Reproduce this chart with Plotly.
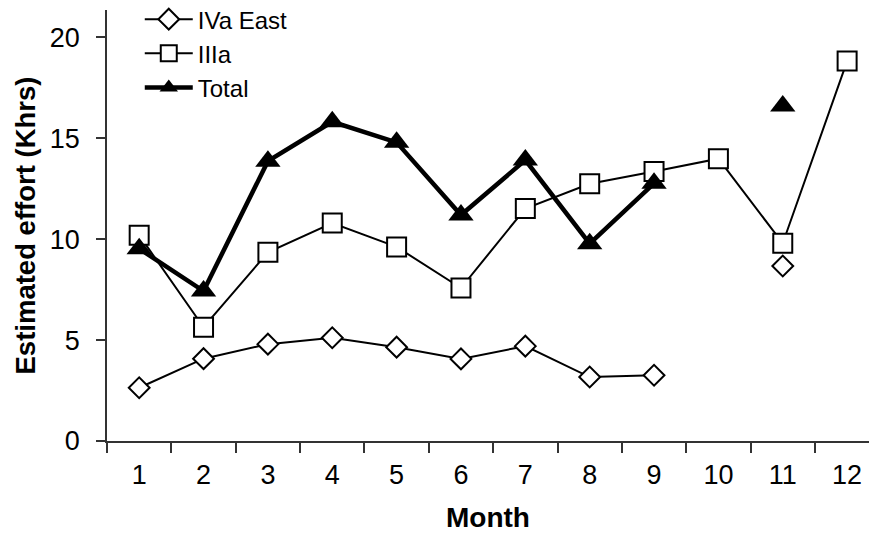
import plotly.graph_objects as go

# Monthly estimated effort (thousand hours)
months = ["1", "2", "3", "4", "5", "6", "7", "8", "9", "10", "11", "12"]
iva_east = [2.64, 4.08, 4.8, 5.12, 4.65, 4.07, 4.7, 3.17, 3.26, None, 8.67, None]
iiia = [10.2, 5.64, 9.35, 10.8, 9.62, 7.58, 11.52, 12.75, 13.36, 13.99, 9.8, 18.83]
total = [9.53, 7.43, 13.87, 15.82, 14.8, 11.2, 13.92, 9.78, 12.77, None, 16.6, None]

y_ticks = [0, 5, 10, 15, 20]

FONT = "Liberation Sans, Arial, sans-serif"

fig = go.Figure()

fig.add_trace(go.Scatter(
    x=months, y=iva_east, name="IVa East", mode="lines+markers",
    connectgaps=False,
    line=dict(color="black", width=2),
    marker=dict(symbol="diamond", size=16, color="white",
                line=dict(color="black", width=2)),
))
fig.add_trace(go.Scatter(
    x=months, y=iiia, name="IIIa", mode="lines+markers",
    connectgaps=False,
    line=dict(color="black", width=2),
    marker=dict(symbol="square", size=19, color="white",
                line=dict(color="black", width=2)),
))
fig.add_trace(go.Scatter(
    x=months, y=total, name="Total", mode="lines+markers",
    connectgaps=False,
    line=dict(color="black", width=4.5),
    marker=dict(symbol="triangle-up", size=22, color="black",
                line=dict(color="black", width=0)),
))

fig.update_layout(
    width=869, height=535,
    margin=dict(l=107, r=0, t=10, b=94, autoexpand=False),
    paper_bgcolor="white", plot_bgcolor="white",
    font=dict(family=FONT, color="black", size=27),
    showlegend=True,
    legend=dict(
        x=0.043, y=1.03, xanchor="left", yanchor="top",
        bgcolor="rgba(0,0,0,0)", borderwidth=0,
        font=dict(family=FONT, size=24, color="black"),
        itemwidth=48, tracegroupgap=0,
    ),
    xaxis=dict(
        type="category",
        range=[-0.5, 11.34],
        showline=True, linecolor="#333", linewidth=1.5,
        ticks="outside", ticklen=10, tickwidth=1.5, tickcolor="#333",
        tickson="boundaries",
        ticklabelstandoff=9,
        showgrid=False, zeroline=False,
        tickfont=dict(size=27),
        title=dict(text="<b>Month</b>", font=dict(size=28), standoff=18),
    ),
    yaxis=dict(
        range=[0, 21.36],
        tickvals=y_ticks,
        showline=True, linecolor="#333", linewidth=1.5,
        ticks="outside", ticklen=9, tickwidth=1.5, tickcolor="#333",
        ticklabelstandoff=11,
        showgrid=False, zeroline=False,
        tickfont=dict(size=27),
        title=dict(text="<b>Estimated effort (Khrs)</b>", font=dict(size=27.5), standoff=6),
    ),
)

fig.write_html("out.html")
